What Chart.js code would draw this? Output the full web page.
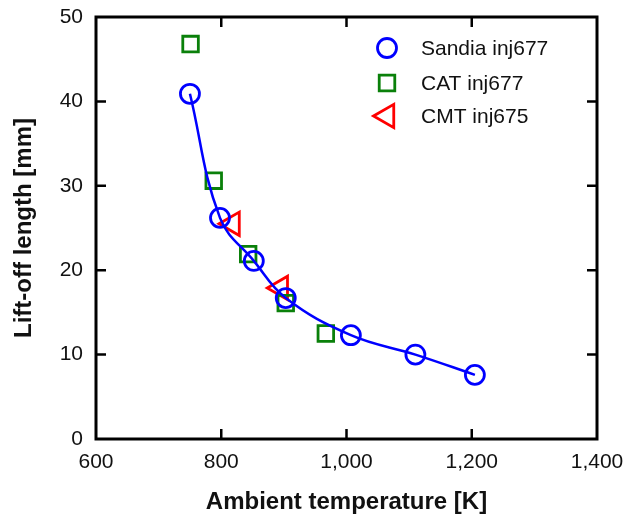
<!DOCTYPE html>
<html>
<head>
<meta charset="utf-8">
<script src="https://cdn.jsdelivr.net/npm/chart.js@4/dist/chart.umd.min.js"></script>
<style>
  html, body { margin: 0; padding: 0; background: #fff; }
  #wrap { width: 631px; height: 517px; }
</style>
</head>
<body>
<div id="wrap"><canvas id="liftoff"></canvas></div>
<script>
// Sandia inj677 (tambien la curva)
var sandiaT = [750, 798, 852, 903, 1007, 1110, 1205];
var sandiaL = [40.9, 26.2, 21.1, 16.7, 12.3, 10.0, 7.6];
// CAT inj677
var catT = [751, 788, 843, 903, 967];
var catL = [46.8, 30.6, 21.9, 16.1, 12.5];
// CMT inj675
var cmtT = [818, 895];
var cmtL = [25.5, 17.9];

var xTicks = [600, 800, 1000, 1200, 1400];
var yTicks = [0, 10, 20, 30, 40, 50];
var serieNombres = ["Sandia inj677", "CAT inj677", "CMT inj675"];

function puntos(xs, ys) {
	var out = [];
	for (var i = 0; i < xs.length; i++) out.push({x: xs[i], y: ys[i]});
	return out;
}

var fuente = "Arial, 'Liberation Sans', sans-serif";

// marco y ticks hacia adentro en los cuatro lados
var marcoPlugin = {
	id: 'marco',
	afterDraw: function(chart) {
		var ctx = chart.ctx, a = chart.chartArea;
		var sx = chart.scales.x, sy = chart.scales.y;
		ctx.save();
		ctx.strokeStyle = '#000';
		ctx.lineWidth = 2.5;
		xTicks.forEach(function(v) {
			if (v === 600 || v === 1400) return;
			var px = sx.getPixelForValue(v);
			ctx.beginPath();
			ctx.moveTo(px, a.bottom); ctx.lineTo(px, a.bottom - 10);
			ctx.moveTo(px, a.top); ctx.lineTo(px, a.top + 10);
			ctx.stroke();
		});
		yTicks.forEach(function(v) {
			if (v === 0 || v === 50) return;
			var py = sy.getPixelForValue(v);
			ctx.beginPath();
			ctx.moveTo(a.left, py); ctx.lineTo(a.left + 10, py);
			ctx.moveTo(a.right, py); ctx.lineTo(a.right - 10, py);
			ctx.stroke();
		});
		ctx.lineWidth = 3;
		ctx.strokeRect(a.left, a.top, a.right - a.left, a.bottom - a.top);

		// leyenda dentro del area
		var ds = chart.data.datasets;
		var orden = [1, 2, 3];
		var lx = 387, ly = [48, 83, 116];
		ctx.font = "21px " + fuente;
		ctx.textBaseline = 'middle';
		ctx.textAlign = 'left';
		for (var i = 0; i < orden.length; i++) {
			var d = ds[orden[i]];
			ctx.strokeStyle = d.borderColor;
			ctx.fillStyle = 'rgba(0,0,0,0)';
			ctx.lineWidth = d.pointBorderWidth;
			Chart.helpers.drawPoint(ctx, {
				pointStyle: d.pointStyle,
				radius: d.pointRadius,
				rotation: d.rotation || 0,
				borderWidth: d.pointBorderWidth
			}, lx, ly[i]);
			ctx.fillStyle = '#111';
			ctx.fillText(serieNombres[i], 421, ly[i] + 1);
		}
		ctx.restore();
	}
};

var grafica = new Chart(document.getElementById('liftoff'), {
	type: 'scatter',
	data: {
		datasets: [
			{
				label: 'curva',
				data: puntos(sandiaT, sandiaL),
				showLine: true,
				tension: 0.4,
				borderColor: '#0000ff',
				borderWidth: 2.5,
				pointRadius: 0,
				fill: false
			},
			{
				label: serieNombres[0],
				data: puntos(sandiaT, sandiaL),
				pointStyle: 'circle',
				pointRadius: 9.5,
				pointBorderWidth: 2.8,
				borderColor: '#0000ff',
				backgroundColor: 'rgba(0,0,0,0)'
			},
			{
				label: serieNombres[1],
				data: puntos(catT, catL),
				pointStyle: 'rect',
				pointRadius: 11,
				pointBorderWidth: 2.8,
				borderColor: '#0a800a',
				backgroundColor: 'rgba(0,0,0,0)'
			},
			{
				label: serieNombres[2],
				data: puntos(cmtT, cmtL),
				pointStyle: 'triangle',
				rotation: -90,
				pointRadius: 13.5,
				pointBorderWidth: 2.8,
				borderColor: '#ff0000',
				backgroundColor: 'rgba(0,0,0,0)'
			}
		]
	},
	options: {
		responsive: true,
		maintainAspectRatio: false,
		animation: false,
		layout: { padding: { top: 17, right: 34, left: 0, bottom: 0 } },
		plugins: { legend: { display: false }, tooltip: { enabled: false } },
		scales: {
			x: {
				type: 'linear',
				min: 600, max: 1400,
				afterBuildTicks: function(s) { s.ticks = xTicks.map(function(v) { return {value: v}; }); },
				afterFit: function(s) { s.height = 78; s.paddingLeft = 0; s.paddingRight = 0; },
				grid: { display: false, drawTicks: false },
				border: { display: false },
				ticks: {
					padding: 11,
					color: '#111',
					font: { size: 21, family: fuente },
					maxRotation: 0,
					callback: function(v) { return v.toLocaleString('en-US'); }
				},
				title: {
					display: true,
					text: 'Ambient temperature [K]',
					color: '#111',
					font: { size: 24, weight: 'bold', family: fuente },
					padding: { top: 0, bottom: 0 }
				}
			},
			y: {
				type: 'linear',
				min: 0, max: 50,
				afterBuildTicks: function(s) { s.ticks = yTicks.map(function(v) { return {value: v}; }); },
				afterFit: function(s) { s.width = 96; s.paddingTop = 0; s.paddingBottom = 0; },
				grid: { display: false, drawTicks: false },
				border: { display: false },
				ticks: {
					padding: 13,
					color: '#111',
					font: { size: 21, family: fuente }
				},
				title: {
					display: true,
					text: 'Lift-off length [mm]',
					color: '#111',
					font: { size: 24, weight: 'bold', family: fuente },
					padding: { top: 10, bottom: 0 }
				}
			}
		}
	},
	plugins: [marcoPlugin]
});
</script>
</body>
</html>
